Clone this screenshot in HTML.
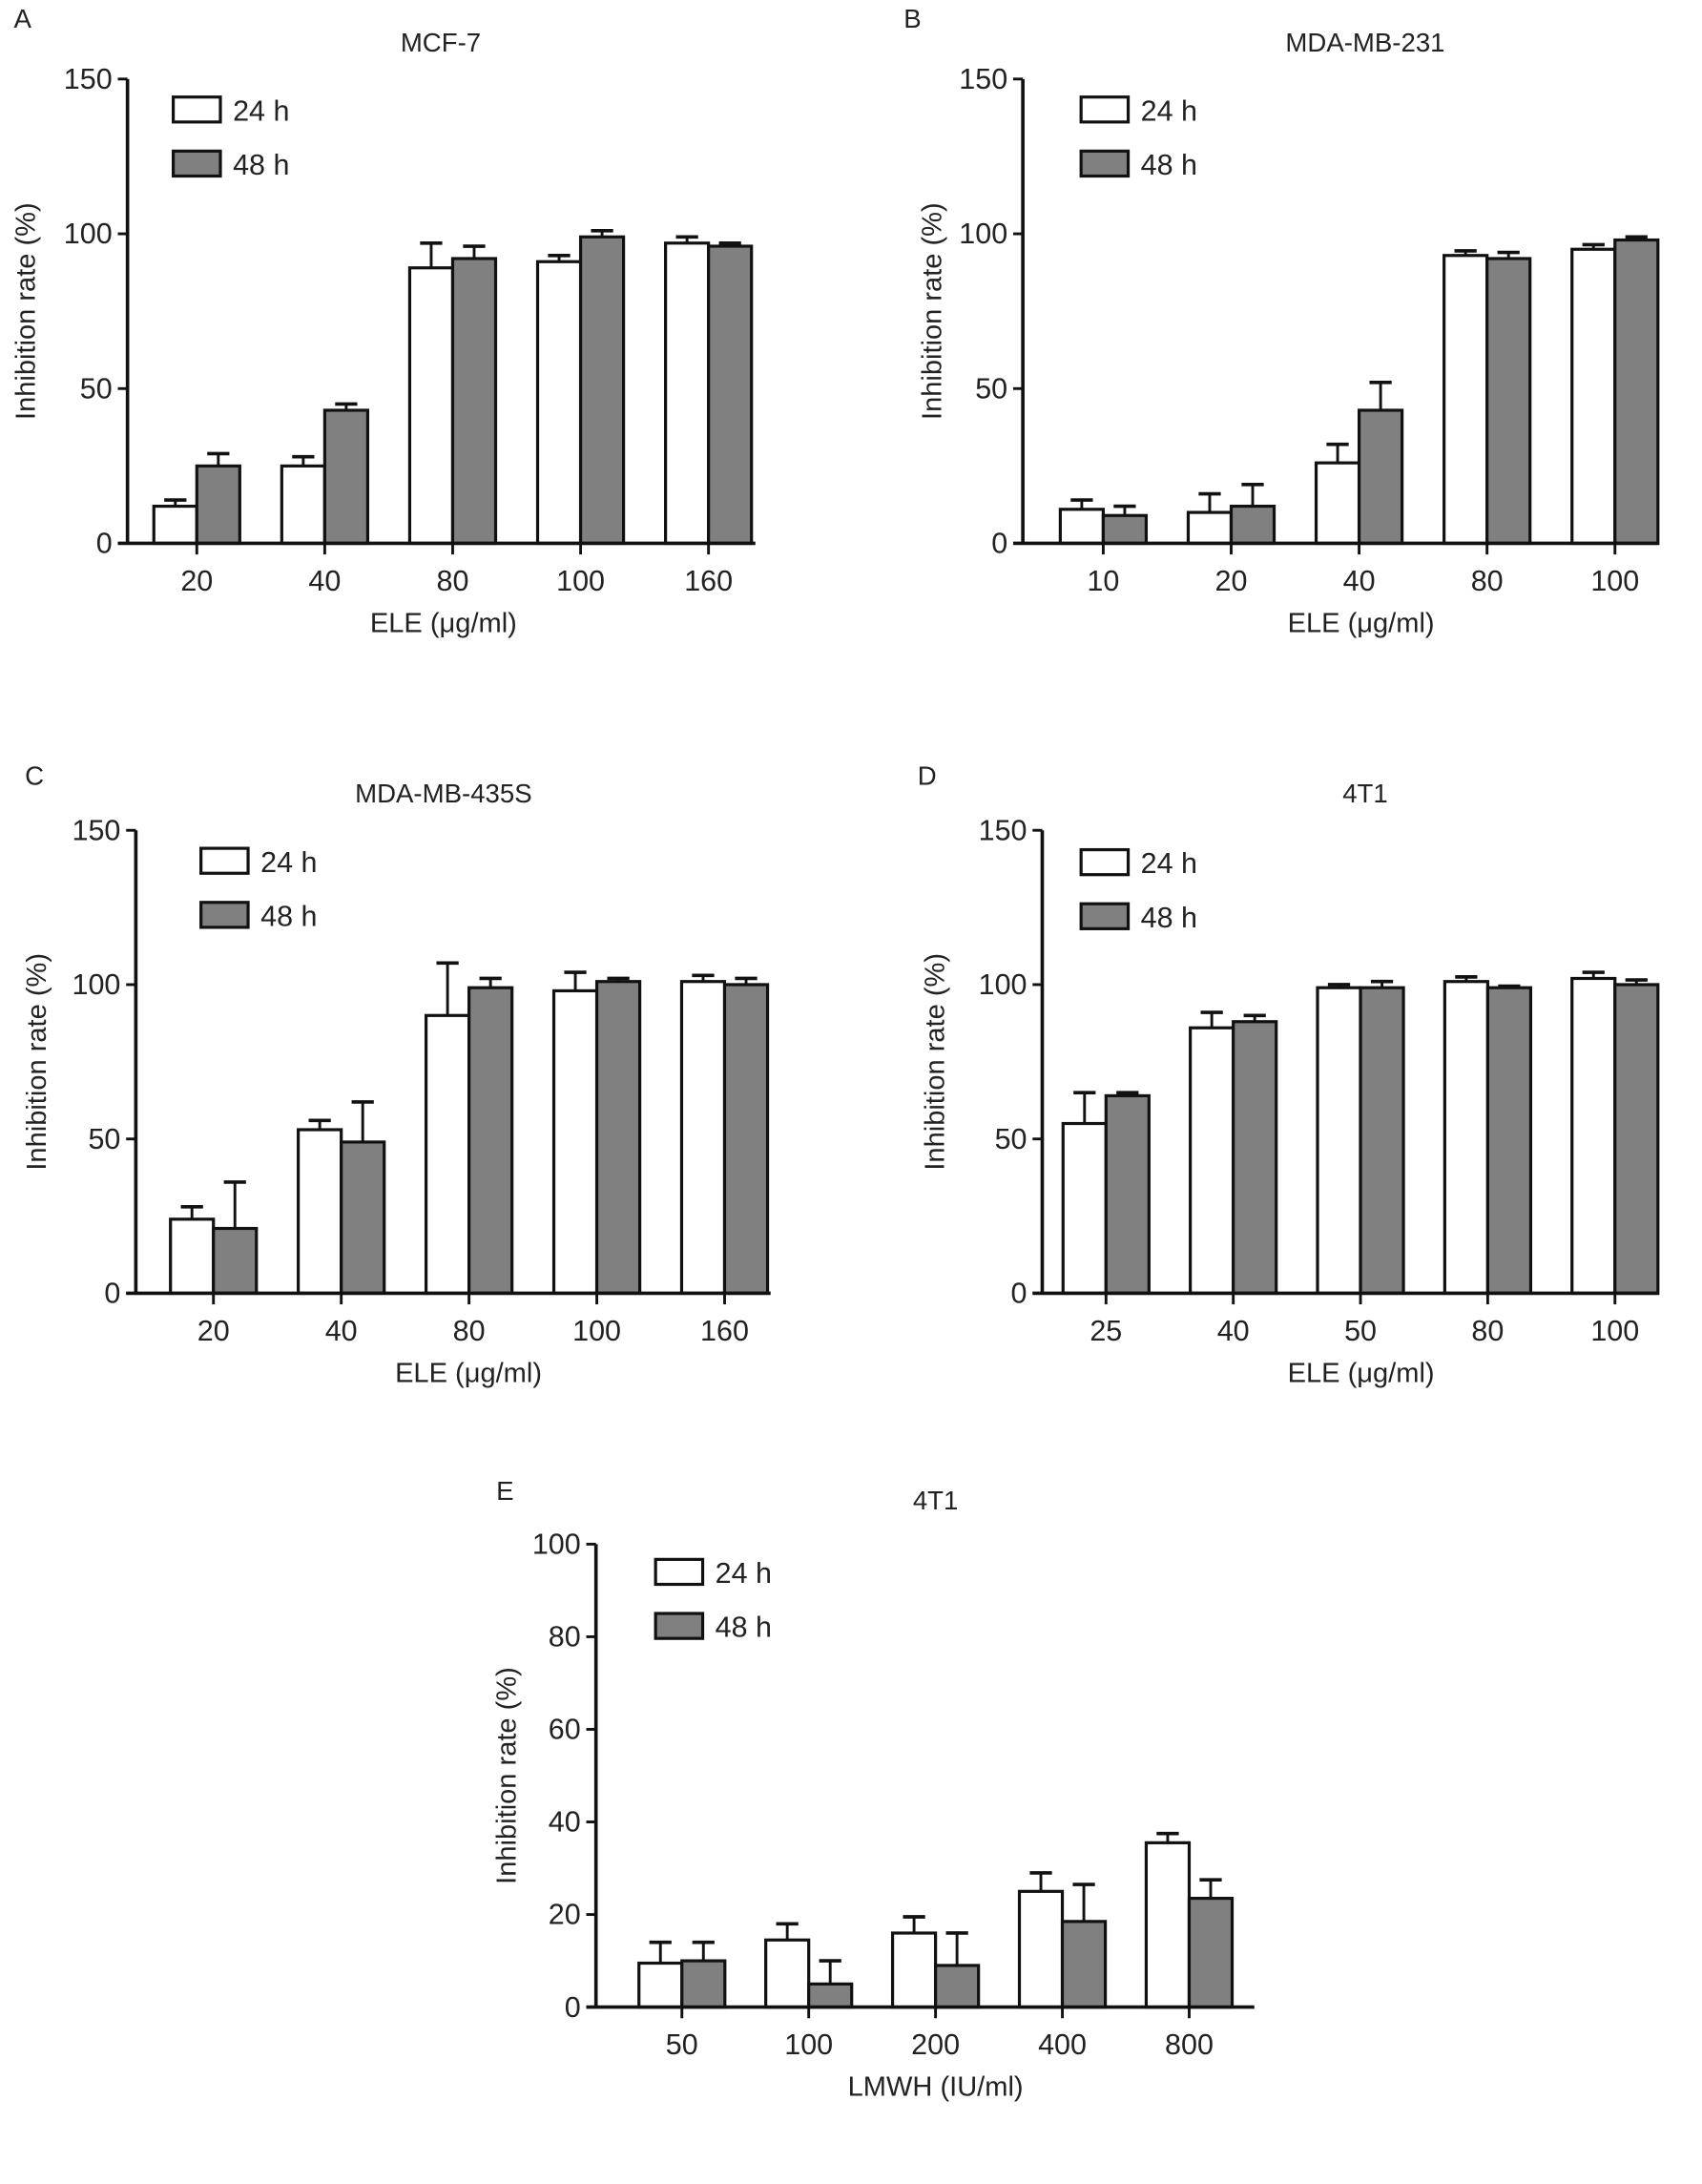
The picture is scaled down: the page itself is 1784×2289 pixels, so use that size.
<!DOCTYPE html>
<html><head><meta charset="utf-8"><style>
html,body{margin:0;padding:0;background:#fff}
svg{display:block}
text{font-family:"Liberation Sans",Arial,sans-serif;fill:#222}
</style></head><body>
<svg id="fig" width="1784" height="2289" viewBox="0 0 1228 1575.6" xmlns="http://www.w3.org/2000/svg"></svg>
<script>
// Panel A - MCF-7
const catsA = ["20","40","80","100","160"];
const h24A = [12,25,89,91,97];
const e24A = [2,3,8,2,2];
const h48A = [25,43,92,99,96];
const e48A = [4,2,4,2,1];
// Panel B - MDA-MB-231
const catsB = ["10","20","40","80","100"];
const h24B = [11,10,26,93,95];
const e24B = [3,6,6,1.5,1.5];
const h48B = [9,12,43,92,98];
const e48B = [3,7,9,2,1];
// Panel C - MDA-MB-435S
const catsC = ["20","40","80","100","160"];
const h24C = [24,53,90,98,101];
const e24C = [4,3,17,6,2];
const h48C = [21,49,99,101,100];
const e48C = [15,13,3,1,2];
// Panel D - 4T1 ELE
const catsD = ["25","40","50","80","100"];
const h24D = [55,86,99,101,102];
const e24D = [10,5,1,1.5,2];
const h48D = [64,88,99,99,100];
const e48D = [1,2,2,0.5,1.5];
// Panel E - 4T1 LMWH
const catsE = ["50","100","200","400","800"];
const h24E = [9.5,14.5,16,25,35.5];
const e24E = [4.5,3.5,3.5,4,2];
const h48E = [10,5,9,18.5,23.5];
const e48E = [4,5,7,8,4];
const ticks150 = [0,50,100,150];
const ticks100 = [0,20,40,60,80,100];

const NS="http://www.w3.org/2000/svg";
const svg=document.getElementById('fig');
function mk(tag,attrs,parent,text){
  const el=document.createElementNS(NS,tag);
  for(const k in attrs) el.setAttribute(k,attrs[k]);
  if(text!==undefined) el.textContent=text;
  (parent||svg).appendChild(el);return el;
}
function panel(p){
  const g=mk('g',{});
  
  
  const y=v=>p.y0-(v/p.ymax)*(p.y0-p.ytop);
  const x=i=>p.x1+i*p.step;
  const t=mk('text',{x:p.lx,y:p.ly,'font-size':19},g,p.id);
  
  
  const ti=mk('text',{x:p.tx,y:p.ty,'font-size':19,'text-anchor':'middle'},g,p.title);
  
  
  p.cats.forEach((c,i)=>{
    const cx=x(i), w=31;
    [[p.a,p.ea,'#fff',cx-w,'bar-24h-'+c],[p.b,p.eb,'#808080',cx,'bar-48h-'+c]].forEach(s=>{
      const v=s[0][i], e=s[1][i], bx=s[3];
      const top=y(v+e);
      const el=mk('line',{x1:bx+w/2,x2:bx+w/2,y1:y(v),y2:top,stroke:'#111','stroke-width':2},g);
      
      
      const cap=mk('line',{x1:bx+w/2-8,x2:bx+w/2+8,y1:top,y2:top,stroke:'#111','stroke-width':2.5},g);
      
      
      const r=mk('rect',{x:bx,y:y(v),width:w,height:p.y0-y(v),fill:s[2],stroke:'#111','stroke-width':2.2},g);
      
      
    });
    const tk=mk('line',{x1:cx,x2:cx,y1:p.y0,y2:p.y0+8,stroke:'#111','stroke-width':2},g);
    
    
    const tl=mk('text',{x:cx,y:p.y0+34,'font-size':21,'text-anchor':'middle'},g,c);
    
    
  });
  const ya=mk('line',{x1:p.ax,x2:p.ax,y1:p.ytop,y2:p.y0,stroke:'#111','stroke-width':2.5},g);
  
  
  const xa=mk('line',{x1:p.ax-7,x2:p.xend,y1:p.y0,y2:p.y0,stroke:'#111','stroke-width':2.5},g);
  
  
  p.ticks.forEach(tv=>{
    const tk=mk('line',{x1:p.ax-7,x2:p.ax,y1:y(tv),y2:y(tv),stroke:'#111','stroke-width':2},g);
    
    
    const tl=mk('text',{x:p.ax-11,y:y(tv)+7,'font-size':21,'text-anchor':'end'},g,String(tv));
    
    
  });
  const yl=mk('text',{x:0,y:0,'font-size':20,'text-anchor':'middle',transform:`translate(${p.ylx},${(p.ytop+p.y0)/2}) rotate(-90)`},g,'Inhibition rate (%)');
  
  
  const xl=mk('text',{x:p.xlx,y:p.y0+64,'font-size':20,'text-anchor':'middle'},g,p.xlabel);
  
  
  [['#fff','24 h',0],['#808080','48 h',39]].forEach(l=>{
    const r=mk('rect',{x:p.legx,y:p.legy+l[2],width:34,height:18,fill:l[0],stroke:'#111','stroke-width':2.2},g);
    
    
    const tt=mk('text',{x:p.legx+43,y:p.legy+l[2]+17,'font-size':21},g,l[1]);
    
    
  });
}
panel({id:'A',title:'MCF-7',cats:catsA,a:h24A,ea:e24A,b:h48A,eb:e48A,ymax:150,ticks:ticks150,
  ax:92,ytop:57,y0:392,x1:142,step:92.3,xend:545,lx:10,ly:20,tx:318,ty:37,legx:125,legy:70,ylx:25,xlx:320,xlabel:'ELE (\u03bcg/ml)'});
panel({id:'B',title:'MDA-MB-231',cats:catsB,a:h24B,ea:e24B,b:h48B,eb:e48B,ymax:150,ticks:ticks150,
  ax:738,ytop:57,y0:392,x1:796,step:92.3,xend:1197,lx:652,ly:20,tx:985,ty:37,legx:780,legy:70,ylx:679,xlx:982,xlabel:'ELE (\u03bcg/ml)'});
panel({id:'C',title:'MDA-MB-435S',cats:catsC,a:h24C,ea:e24C,b:h48C,eb:e48C,ymax:150,ticks:ticks150,
  ax:98,ytop:599,y0:933,x1:154,step:92.2,xend:556,lx:18,ly:566,tx:320,ty:579,legx:145,legy:612,ylx:33,xlx:338,xlabel:'ELE (\u03bcg/ml)'});
panel({id:'D',title:'4T1',cats:catsD,a:h24D,ea:e24D,b:h48D,eb:e48D,ymax:150,ticks:ticks150,
  ax:752,ytop:599,y0:933,x1:798,step:91.8,xend:1197,lx:662,ly:566,tx:985,ty:579,legx:780,legy:613,ylx:681,xlx:982,xlabel:'ELE (\u03bcg/ml)'});
panel({id:'E',title:'4T1',cats:catsE,a:h24E,ea:e24E,b:h48E,eb:e48E,ymax:100,ticks:ticks100,
  ax:430,ytop:1114,y0:1448,x1:492,step:91.5,xend:905,lx:358,ly:1082,tx:675,ty:1089,legx:473,legy:1125,ylx:372,xlx:675,xlabel:'LMWH (IU/ml)'});
</script>
</body></html>
